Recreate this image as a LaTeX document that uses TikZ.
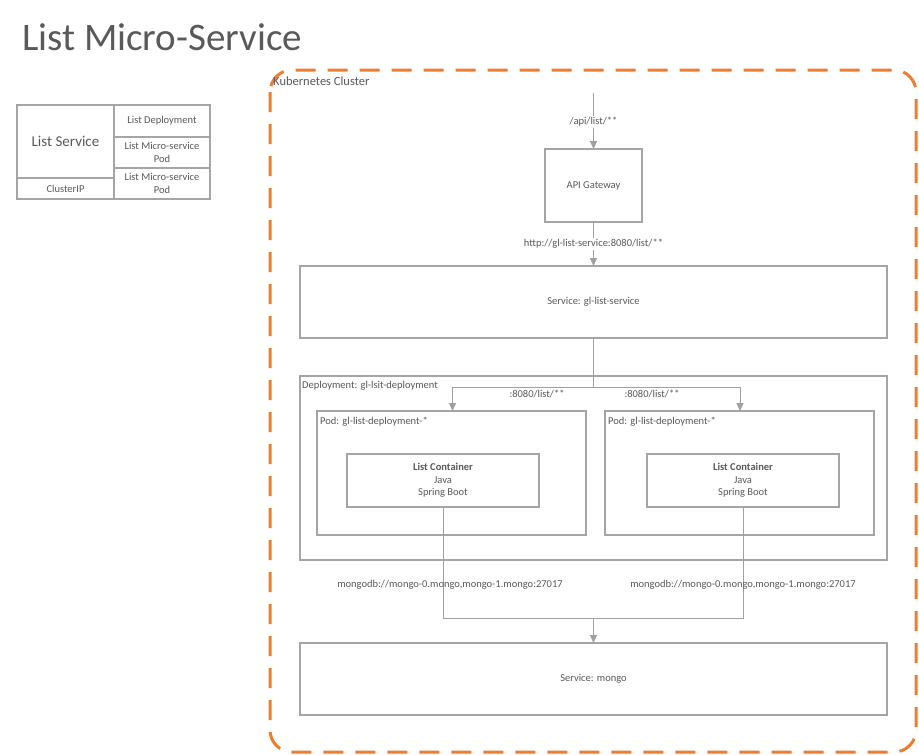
\documentclass[tikz,border=0pt]{standalone}
\usepackage{fontspec}
\setmainfont{Carlito}
\usetikzlibrary{arrows.meta}
\definecolor{boxgray}{HTML}{A5A5A5}
\definecolor{linegray}{HTML}{A0A0A0}
\definecolor{txtgray}{HTML}{595959}
\definecolor{k8orange}{HTML}{ED7D31}
\tikzset{
  box/.style={draw=boxgray, line width=2.5pt, inner sep=0pt, outer sep=0pt, text=txtgray, font=\fontsize{10.5}{12.5}\selectfont, align=center},
  lgbox/.style={draw=boxgray, line width=2pt, inner sep=0pt, outer sep=0pt, text=txtgray, font=\fontsize{10.5}{12.5}\selectfont, align=center},
  conn/.style={draw=linegray, line width=1pt},
  arr/.style={conn, -{Triangle[length=8pt,width=7pt]}},
  lbl/.style={text=txtgray, font=\fontsize{10.5}{12.5}\selectfont, inner sep=1pt},
}
\begin{document}
\begin{tikzpicture}[x=1pt,y=-1pt]
\useasboundingbox (0,0) rectangle (919,755);
\fill[white] (0,0) rectangle (919,755);

% title
\node[anchor=base west, text=txtgray, font=\fontsize{39}{44}\selectfont, inner sep=0pt] (title) at (22,50) {List Micro-Service};

% legend
\node[lgbox, minimum width=97pt, minimum height=73pt, font=\fontsize{15}{18}\selectfont] (lsvc) at (65.5,141.5) {List Service};
\node[lgbox, minimum width=97pt, minimum height=21pt] (lcip) at (65.5,188.5) {ClusterIP};
\node[lgbox, minimum width=96pt, minimum height=32pt] (ldep) at (162,121) {List Deployment};
\node[lgbox, minimum width=96pt, minimum height=31pt] (lpod1) at (162,152.5) {List Micro-service\\Pod};
\node[lgbox, minimum width=96pt, minimum height=31pt] (lpod2) at (162,183.5) {List Micro-service\\Pod};

% cluster
\draw[k8orange, line width=3pt, dash pattern=on 20pt off 12pt, rounded corners=22pt] (270,70) rectangle (916,752);
\node[anchor=base west, text=txtgray, font=\fontsize{12.5}{14}\selectfont, inner sep=0pt] (clabel) at (273,85) {Kubernetes Cluster};

% boxes
\node[box, minimum width=97pt, minimum height=73pt] (api) at (593.5,185.5) {API Gateway};
\node[box, minimum width=587pt, minimum height=72pt] (svc) at (593.5,302) {Service: gl-list-service};
\node[box, minimum width=587pt, minimum height=184pt] (dep) at (593.5,468) {};
\node[lbl, anchor=base west, inner sep=0pt] (deplbl) at (302,388) {Deployment: gl-lsit-deployment};
\node[box, minimum width=269pt, minimum height=124pt] (podL) at (451.5,473) {};
\node[box, minimum width=269pt, minimum height=124pt] (podR) at (739.5,473) {};
\node[lbl, anchor=base west, inner sep=0pt] (podLlbl) at (320,424) {Pod: gl-list-deployment-*};
\node[lbl, anchor=base west, inner sep=0pt] (podRlbl) at (608,424) {Pod: gl-list-deployment-*};
\node[box, minimum width=192pt, minimum height=53pt] (contL) at (443,480.5) {\textbf{List Container}\\Java\\Spring Boot};
\node[box, minimum width=192pt, minimum height=53pt] (contR) at (743,480.5) {\textbf{List Container}\\Java\\Spring Boot};
\node[box, minimum width=587pt, minimum height=72pt] (mongo) at (593.5,679) {Service: mongo};

% connectors
\coordinate (in) at (593.5,93);
\coordinate (split) at (593.5,387);
\coordinate (join) at (593.5,618);
\draw[arr] (in) -- (api.north);
\node[lbl, fill=white] (l1) at (593.5,122) {/api/list/**};
\draw[arr] (api.south) -- (svc.north);
\node[lbl, fill=white] (l2) at (593.5,244) {http://gl-list-service:8080/list/**};
\draw[conn] (svc.south) -- (split);
\draw[arr] (split) -| ([xshift=1pt]podL.north);
\draw[arr] (split) -| ([xshift=0.5pt]podR.north);
\node[lbl] (l3) at (537,394) {:8080/list/**};
\node[lbl] (l4) at (652,394) {:8080/list/**};
\draw[conn] (contL.south) |- (join);
\draw[conn] (contR.south) |- (join);
\draw[arr] (join) -- (mongo.north);
\node[lbl] (l5) at (450,585) {mongodb://mongo-0.mongo,mongo-1.mongo:27017};
\node[lbl] (l6) at (743,585) {mongodb://mongo-0.mongo,mongo-1.mongo:27017};
\end{tikzpicture}
\end{document}
